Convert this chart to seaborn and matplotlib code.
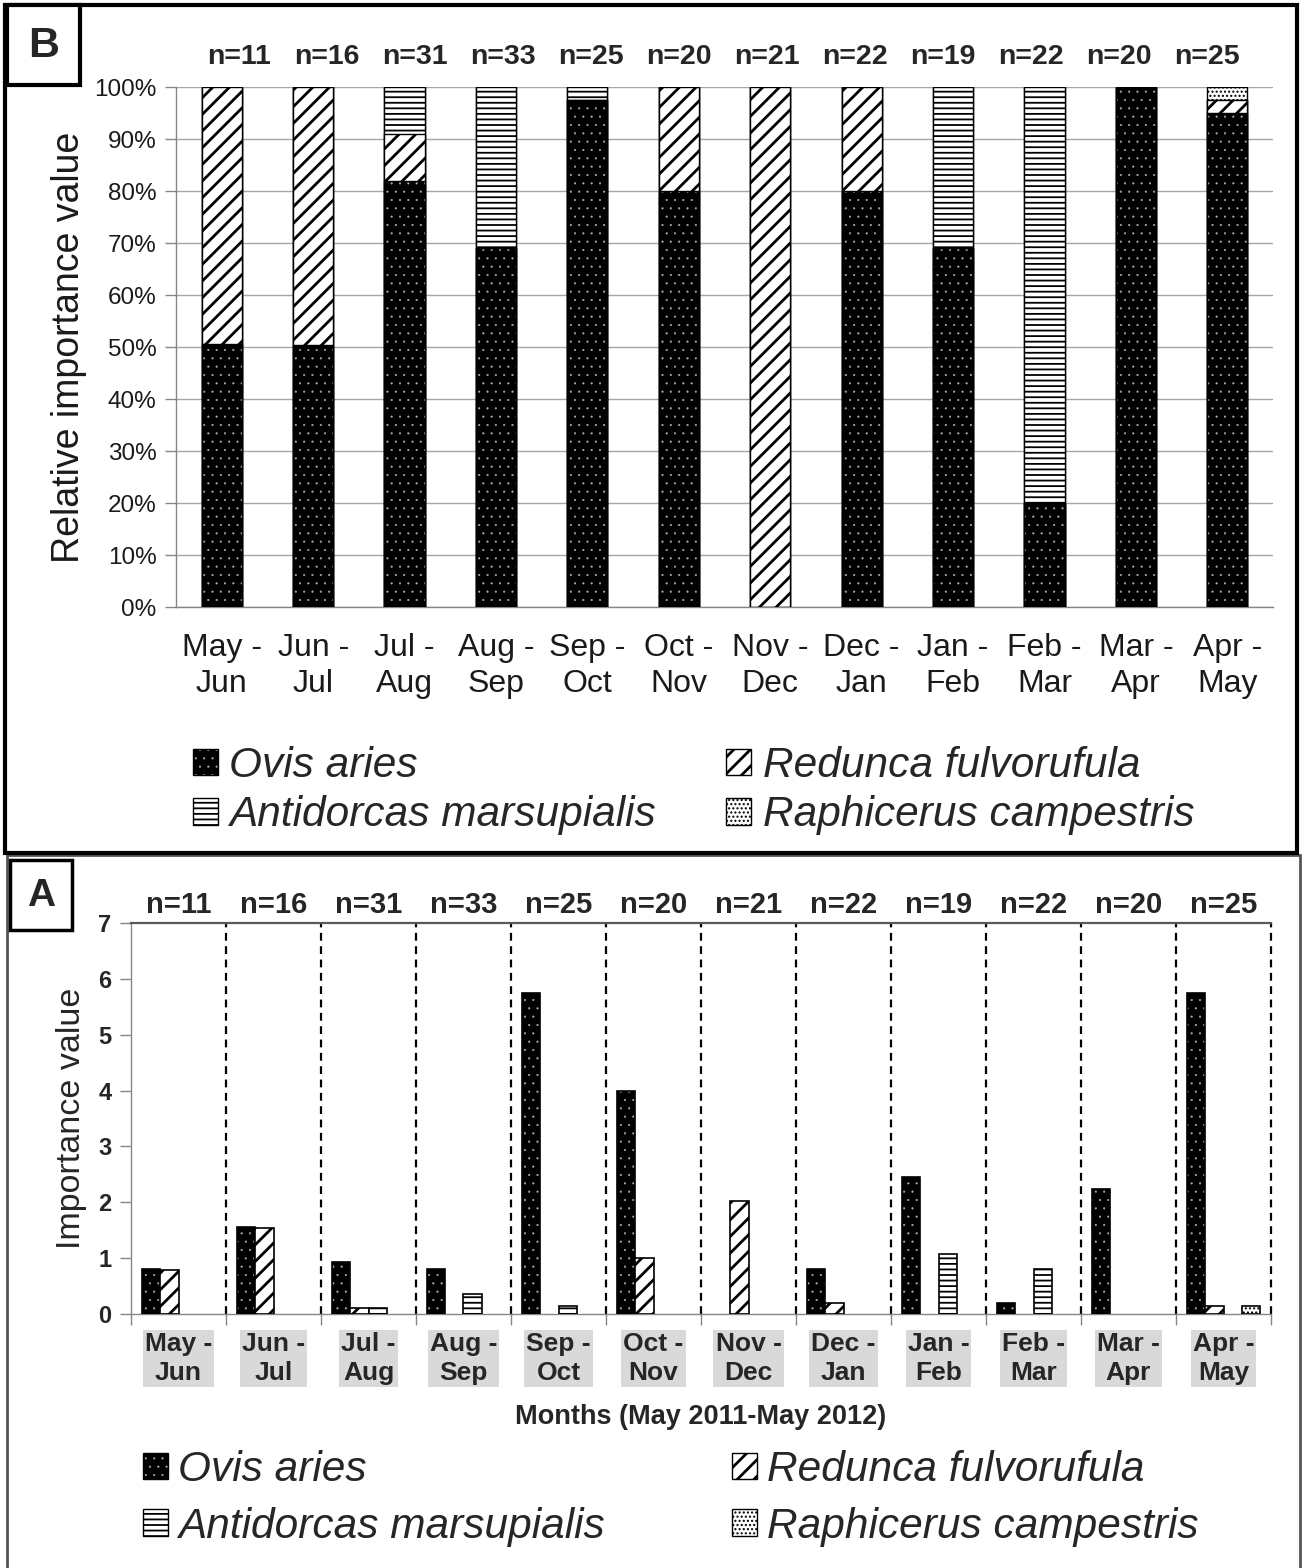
import numpy as np
import pandas as pd
import matplotlib
matplotlib.use("Agg")
import matplotlib.pyplot as plt
import matplotlib.colors as mcolors
from matplotlib.patches import Patch, Rectangle
import seaborn as sns

# ---------------------------------------------------------------- data
periods = ["May -\nJun", "Jun -\nJul", "Jul -\nAug", "Aug -\nSep", "Sep -\nOct",
           "Oct -\nNov", "Nov -\nDec", "Dec -\nJan", "Jan -\nFeb", "Feb -\nMar",
           "Mar -\nApr", "Apr -\nMay"]
n_samples = [11, 16, 31, 33, 25, 20, 21, 22, 19, 22, 20, 25]
species = ["Ovis aries", "Redunca fulvorufula",
           "Antidorcas marsupialis", "Raphicerus campestris"]

nan = np.nan
# Panel A: importance value per two-month period (nan = not recorded)
ovis_iv = [0.81, 1.56, 0.93, 0.81, 5.75, 4.00, nan, 0.81, 2.45, 0.20, 2.23, 5.75]
redunca_iv = [0.79, 1.54, 0.10, nan, nan, 1.00, 2.03, 0.20, nan, nan, nan, 0.15]
antidorcas_iv = [nan, nan, 0.10, 0.36, 0.15, nan, nan, nan, 1.08, 0.81, nan, nan]
raphicerus_iv = [nan, nan, nan, nan, nan, nan, nan, nan, nan, nan, nan, 0.15]

# Panel B: relative importance value (%)
ovis_pct = [50.6, 50.3, 82.0, 69.0, 97.5, 80.0, 0.0, 80.0, 69.0, 20.0, 100.0, 95.0]
redunca_pct = [49.4, 49.7, 9.0, 0.0, 0.0, 20.0, 100.0, 20.0, 0.0, 0.0, 0.0, 2.5]
antidorcas_pct = [0.0, 0.0, 9.0, 31.0, 2.5, 0.0, 0.0, 0.0, 31.0, 80.0, 0.0, 0.0]
raphicerus_pct = [0.0, 0.0, 0.0, 0.0, 0.0, 0.0, 0.0, 0.0, 0.0, 0.0, 0.0, 2.5]

# ---------------------------------------------------------------- style
sns.set_theme(style="white")
plt.rcParams["font.family"] = ["Liberation Sans", "DejaVu Sans"]
plt.rcParams["hatch.linewidth"] = 1.3

fills = {"Ovis aries": "black", "Redunca fulvorufula": "white",
         "Antidorcas marsupialis": "white", "Raphicerus campestris": "white"}
hatches = {"Ovis aries": "..", "Redunca fulvorufula": "//",
           "Antidorcas marsupialis": "---", "Raphicerus campestris": "...."}
hatch_lw = {"Ovis aries": 0.3, "Redunca fulvorufula": 2.0,
            "Antidorcas marsupialis": 1.3, "Raphicerus campestris": 1.0}
AXIS_GREY = "#868686"


def style_patch(p, sp):
    """Hatch colour / weight per species (dots on black are light grey)."""
    if sp == "Ovis aries":
        if hasattr(p, "set_hatchcolor"):
            p.set_hatchcolor("#b0b0b0")
        else:
            p._hatch_color = mcolors.to_rgba("#b0b0b0")
    if hasattr(p, "set_hatch_linewidth"):
        p.set_hatch_linewidth(hatch_lw[sp])
    elif hasattr(p, "_hatch_linewidth"):
        p._hatch_linewidth = hatch_lw[sp]


W, H = 1302, 1568
fig = plt.figure(figsize=(W / 100, H / 100), dpi=100, facecolor="white")


def rect(l, t, r, b):
    return [l / W, 1 - b / H, (r - l) / W, (b - t) / H]


def fpt(x, y):
    return (x / W, 1 - y / H)


def frame(l, t, r, b, lw, color="black", face="none", z=0):
    fig.add_artist(Rectangle(fpt(l, b), (r - l) / W, (b - t) / H,
                             transform=fig.transFigure, fill=(face != "none"),
                             facecolor=face, edgecolor=color, lw=lw, zorder=z))


def legend_handles():
    hs = []
    for sp in species:
        hs.append(Patch(facecolor=fills[sp], edgecolor="black",
                        hatch=hatches[sp], lw=1.0, label=sp))
    return hs


order = [0, 2, 1, 3]

# ---------------------------------------------------------------- panel B
axB = fig.add_axes(rect(176, 87, 1273, 607))
layers = np.array([ovis_pct, redunca_pct, antidorcas_pct, raphicerus_pct])
cum = np.cumsum(layers, axis=0)
for i in reversed(range(len(species))):
    sp = species[i]
    with plt.rc_context({"hatch.linewidth": hatch_lw[sp]}):
        sns.barplot(x=periods, y=cum[i], order=periods, color=fills[sp],
                    saturation=1, width=0.44, edgecolor="black", linewidth=1.0,
                    hatch=hatches[sp], ax=axB, zorder=3)
    for p in axB.containers[-1]:
        style_patch(p, sp)

axB.set_ylim(0, 100)
axB.set_xlim(-0.5, len(periods) - 0.5)
axB.set_yticks(np.arange(0, 101, 10))
axB.set_yticklabels([f"{v}%" for v in range(0, 101, 10)])
axB.set_axisbelow(True)
axB.yaxis.grid(True, color="#a6a6a6", lw=1.0)
axB.xaxis.grid(False)
for s in ["top", "right"]:
    axB.spines[s].set_visible(False)
for s in ["left", "bottom"]:
    axB.spines[s].set_color(AXIS_GREY)
    axB.spines[s].set_linewidth(1.0)
axB.tick_params(axis="y", left=True, direction="out", length=8, width=1,
                color=AXIS_GREY, labelsize=17.5, labelcolor="#1a1a1a", pad=6)
axB.tick_params(axis="x", length=0, labelsize=23, labelcolor="#1a1a1a", pad=19)
for t in axB.get_xticklabels():
    t.set_linespacing(1.25)
axB.set_xlabel("")
axB.set_ylabel("Relative importance value", fontsize=27, color="#1a1a1a")
axB.yaxis.set_label_coords(-0.081, 0.5)
# sample sizes sit on their own evenly spaced row above the plot
for i, n in enumerate(n_samples):
    xpx = 239 + 88 * i
    axB.text((xpx - 176) / 1097, (607 - 57) / 520, f"n={n}",
             transform=axB.transAxes, ha="center", va="center",
             fontsize=20.5, fontweight="bold")

hs = legend_handles()
legB = fig.legend([hs[k] for k in order], [species[k] for k in order], ncol=2,
                  loc="upper left", bbox_to_anchor=fpt(193, 746), frameon=False,
                  prop=dict(style="italic", size=30.5), handlelength=0.58,
                  handleheight=0.58, handletextpad=0.28, columnspacing=1.65,
                  labelspacing=0.22, borderpad=0, borderaxespad=0)
for p, k in zip(legB.get_patches(), order):
    style_patch(p, species[k])

# ---------------------------------------------------------------- panel A
axA = fig.add_axes(rect(131, 923, 1271, 1314))
df = pd.DataFrame({
    "period": periods * 4,
    "species": np.repeat(species, len(periods)),
    "iv": ovis_iv + redunca_iv + antidorcas_iv + raphicerus_iv,
}).dropna()
sns.barplot(data=df, x="period", y="iv", hue="species", order=periods,
            hue_order=species, palette=fills, saturation=1, width=0.76,
            edgecolor="black", linewidth=1.2, errorbar=None, legend=False,
            ax=axA, zorder=3)
for cont, sp in zip(axA.containers, species):
    for p in cont:
        p.set_hatch(hatches[sp])
        style_patch(p, sp)

axA.set_ylim(0, 7)
axA.set_xlim(-0.5, len(periods) - 0.5)
for k in range(1, len(periods) + 1):
    axA.axvline(k - 0.5, color="black", ls=(0, (3.5, 2.5)), lw=1.6,
                zorder=2, clip_on=False)
axA.grid(False)
axA.spines["right"].set_visible(False)
axA.spines["top"].set_color("#595959")
axA.spines["top"].set_linewidth(1.6)
for s in ["left", "bottom"]:
    axA.spines[s].set_color(AXIS_GREY)
    axA.spines[s].set_linewidth(1.0)
axA.set_yticks(range(0, 8))
axA.tick_params(axis="y", left=True, direction="out", length=8, width=1,
                color=AXIS_GREY, labelsize=17, pad=6)
for t in axA.get_yticklabels():
    t.set_fontweight("bold")
axA.set_xticks(np.arange(-0.5, len(periods), 1.0), minor=True)
axA.tick_params(axis="x", which="minor", bottom=True, direction="out",
                length=8, width=1, color=AXIS_GREY)
axA.tick_params(axis="x", which="major", length=0, labelsize=19, pad=13)
for t in axA.get_xticklabels():
    t.set_fontweight("bold")
    t.set_linespacing(1.28)
    t.set_bbox(dict(boxstyle="square,pad=0.08", facecolor="#d9d9d9",
                    edgecolor="none"))
axA.set_xlabel("Months (May 2011-May 2012)", fontsize=19.5, fontweight="bold")
axA.xaxis.set_label_coords(0.5, (1314 - 1404) / 391)
axA.set_ylabel("Importance value", fontsize=24.5)
axA.yaxis.set_label_coords(-0.039, 0.5)
for i, n in enumerate(n_samples):
    axA.text(i, (1314 - 905) / 391, f"n={n}", transform=axA.get_xaxis_transform(),
             ha="center", va="center", fontsize=21, fontweight="bold")

hs = legend_handles()
legA = fig.legend([hs[k] for k in order], [species[k] for k in order], ncol=2,
                  loc="upper left", bbox_to_anchor=fpt(143, 1450), frameon=False,
                  prop=dict(style="italic", size=30.5), handlelength=0.58,
                  handleheight=0.58, handletextpad=0.25, columnspacing=3.0,
                  labelspacing=0.39, borderpad=0, borderaxespad=0)
for p, k in zip(legA.get_patches(), order):
    style_patch(p, species[k])

# ---------------------------------------------------------------- frames
frame(7, 855, 1300, 1580, lw=2.0, color="#555555")
frame(5, 5, 1297, 853, lw=3.0)
frame(7, 5, 80, 85, lw=3.0, face="white", z=5)
fig.text(43.5 / W, 1 - 46 / H, "B", ha="center", va="center", fontsize=31,
         fontweight="bold", zorder=6)
frame(10, 860, 72, 930, lw=2.5, face="white", z=5)
fig.text(41 / W, 1 - 896 / H, "A", ha="center", va="center", fontsize=28,
         fontweight="bold", zorder=6)

fig.savefig("out.png", dpi=100, facecolor="white")
